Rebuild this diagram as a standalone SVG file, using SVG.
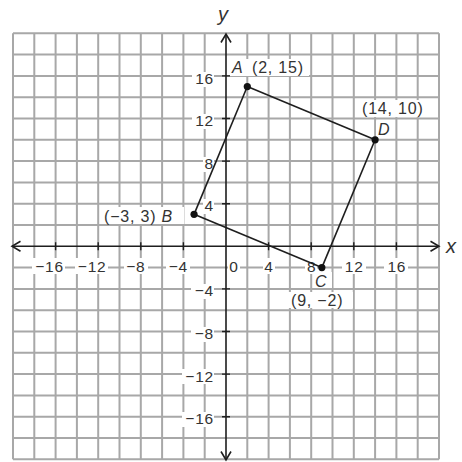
<svg xmlns="http://www.w3.org/2000/svg" width="462" height="462" viewBox="0 0 462 462">
<style>
.grid{stroke:#a8a8a8;stroke-width:2;fill:none}
.axis{stroke:#1e1e1e;stroke-width:1.6;fill:none}
.tick{stroke:#1e1e1e;stroke-width:1.4}
.edge{stroke:#1e1e1e;stroke-width:1.6;fill:none}
.dot{fill:#111}
.bg{fill:#fff}
text{font-family:"Liberation Sans",Arial,sans-serif;font-size:15.5px;fill:#333;letter-spacing:0.8px}
.lbl{font-size:16px;letter-spacing:0.8px}
.num{text-anchor:middle}
.ynum{text-anchor:end}
.it{font-style:italic}
.axl{font-size:20px;font-style:italic;letter-spacing:0}
</style>
<rect width="462" height="462" fill="#fff"/>
<g id="grid">
<path class="grid" d="M13,33.3V459.3M34.3,33.3V459.3M55.6,33.3V459.3M76.9,33.3V459.3M98.2,33.3V459.3M119.5,33.3V459.3M140.8,33.3V459.3M162.1,33.3V459.3M183.4,33.3V459.3M204.7,33.3V459.3M247.3,33.3V459.3M268.6,33.3V459.3M289.9,33.3V459.3M311.2,33.3V459.3M332.5,33.3V459.3M353.8,33.3V459.3M375.1,33.3V459.3M396.4,33.3V459.3M417.7,33.3V459.3M439,33.3V459.3"/>
<path class="grid" d="M13,33.3H439M13,54.6H439M13,75.9H439M13,97.2H439M13,118.5H439M13,139.8H439M13,161.1H439M13,182.4H439M13,203.7H439M13,225H439M13,267.6H439M13,288.9H439M13,310.2H439M13,331.5H439M13,352.8H439M13,374.1H439M13,395.4H439M13,416.7H439M13,438H439M13,459.3H439"/>
</g>
<g id="axes">
<path class="axis" d="M12,246.3H439M226,34V460"/>
<path class="axis" d="M20.5,241.3L12,246.3L20.5,251.3M430.5,241.3L439,246.3L430.5,251.3M221,42.5L226,34L231,42.5M221,451.5L226,460L231,451.5"/>
<path class="tick" d="M55.6,242.3V250.3M98.2,242.3V250.3M140.8,242.3V250.3M183.4,242.3V250.3M268.6,242.3V250.3M311.2,242.3V250.3M353.8,242.3V250.3M396.4,242.3V250.3M222,75.9H230M222,118.5H230M222,161.1H230M222,203.7H230M222,288.9H230M222,331.5H230M222,374.1H230M222,416.7H230"/>
<g id="axis-labels">
<rect class="bg" x="32" y="258" width="33" height="16"/>
<rect class="bg" x="75" y="258" width="33" height="16"/>
<rect class="bg" x="124" y="258" width="24" height="16"/>
<rect class="bg" x="166" y="258" width="24" height="16"/>
<rect class="bg" x="228" y="258" width="12" height="16"/>
<rect class="bg" x="263" y="258" width="12" height="16"/>
<rect class="bg" x="305" y="258" width="12" height="16"/>
<rect class="bg" x="342" y="258" width="24" height="16"/>
<rect class="bg" x="384" y="258" width="24" height="16"/>
<rect class="bg" x="192" y="72" width="22" height="15"/>
<rect class="bg" x="192" y="114" width="22" height="15"/>
<rect class="bg" x="203" y="157" width="11" height="15"/>
<rect class="bg" x="203" y="199" width="11" height="15"/>
<rect class="bg" x="191" y="284" width="23" height="15"/>
<rect class="bg" x="191" y="327" width="23" height="15"/>
<rect class="bg" x="182" y="369" width="32" height="15"/>
<rect class="bg" x="182" y="412" width="32" height="15"/>
<text class="num" x="49.6" y="271.5">−16</text>
<text class="num" x="92.2" y="271.5">−12</text>
<text class="num" x="135.8" y="271.5">−8</text>
<text class="num" x="178.4" y="271.5">−4</text>
<text class="num" x="234" y="271.5">0</text>
<text class="num" x="269" y="271.5">4</text>
<text class="num" x="311.6" y="271.5">8</text>
<text class="num" x="354.2" y="271.5">12</text>
<text class="num" x="396.8" y="271.5">16</text>
<text class="ynum" x="214" y="83.5">16</text>
<text class="ynum" x="214" y="126">12</text>
<text class="ynum" x="214" y="168.5">8</text>
<text class="ynum" x="214" y="211">4</text>
<text class="ynum" x="214" y="296">−4</text>
<text class="ynum" x="214" y="339">−8</text>
<text class="ynum" x="214" y="381.5">−12</text>
<text class="ynum" x="214" y="424">−16</text>
<text class="axl" x="446" y="253">x</text>
<text class="axl" x="218" y="21">y</text>
</g>
</g>
<g id="connectors">
<line class="edge" x1="247.3" y1="86.55" x2="375.1" y2="139.8"/>
<line class="edge" x1="375.1" y1="139.8" x2="321.85" y2="267.6"/>
<line class="edge" x1="321.85" y1="267.6" x2="194.05" y2="214.35"/>
<line class="edge" x1="194.05" y1="214.35" x2="247.3" y2="86.55"/>
</g>
<g id="node-A">
<rect class="bg" x="230" y="59" width="79" height="17"/>
<circle class="dot" cx="247.3" cy="86.55" r="3.6"/>
<text class="lbl" x="232" y="72.5"><tspan class="it">A</tspan><tspan x="252">(2, 15)</tspan></text>
</g>
<g id="node-D">
<rect class="bg" x="360" y="100" width="66" height="17"/>
<rect class="bg" x="376" y="121" width="16" height="15"/>
<circle class="dot" cx="375.1" cy="139.8" r="3.6"/>
<text class="lbl" x="362" y="113.5">(14, 10)</text>
<text class="lbl it" x="378" y="134.5">D</text>
</g>
<g id="node-C">
<rect class="bg" x="313" y="272" width="19" height="16"/>
<rect class="bg" x="288" y="292" width="65" height="16"/>
<circle class="dot" cx="321.85" cy="267.6" r="3.6"/>
<text class="lbl it" x="315" y="286.5">C</text>
<text class="lbl" x="291" y="305.5">(9, −2)</text>
</g>
<g id="node-B">
<rect class="bg" x="102" y="207" width="82" height="17"/>
<circle class="dot" cx="194.05" cy="214.35" r="3.6"/>
<text class="lbl" x="104" y="222"><tspan>(−3, 3) </tspan><tspan class="it">B</tspan></text>
</g>
</svg>
